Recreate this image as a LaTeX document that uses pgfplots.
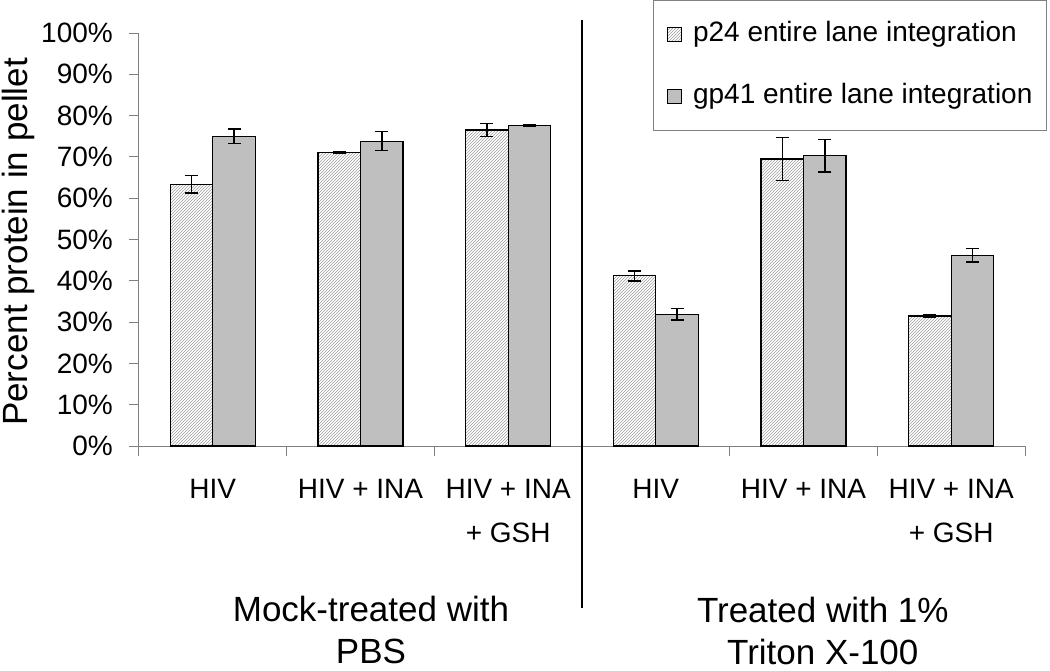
\documentclass[border=0pt]{standalone}
\usepackage{fontspec}
\setmainfont{Liberation Sans}
\usepackage{pgfplots}
\pgfplotsset{compat=1.18}
\usetikzlibrary{patterns}
\pgfplotsset{sqlegend/.style={legend image code/.code={\draw[##1, line width=1pt] (0pt,-7pt) rectangle (14pt,7pt);}}}
\pgfplotstableread{
x y e
1 63.4 2.1
2 71.1 0.25
3 76.5 1.6
4 41.2 1.2
5 69.5 5.2
6 31.5 0.3
}\ptwentyfour
\pgfplotstableread{
x y e
1 75.0 1.7
2 73.8 2.3
3 77.6 0.25
4 31.9 1.45
5 70.3 3.9
6 46.2 1.6
}\gpfortyone
\begin{document}
\begin{tikzpicture}
\path[use as bounding box] (0,0) rectangle (1050pt,-671pt);
\begin{axis}[
  at={(139pt,-446pt)}, anchor=south west,
  scale only axis, width=886pt, height=413pt,
  ybar=0pt, bar width=42.5pt,
  xmin=0.5, xmax=6.5, ymin=0, ymax=100,
  clip=false,
  axis x line*=bottom, axis y line*=left,
  axis line style={-, draw=gray, line width=1pt},
  tick align=outside,
  major tick length=10pt,
  tick style={gray, line width=1pt},
  xtick={0.5,1.5,2.5,3.5,4.5,5.5,6.5},
  xticklabels={},
  extra x ticks={1,2,3,4,5,6},
  extra x tick labels={HIV, HIV + INA, {HIV + INA\\+ GSH}, HIV, HIV + INA, {HIV + INA\\+ GSH}},
  extra x tick style={major tick length=0pt},
  xticklabel style={inner sep=0pt, anchor=north, yshift=-33pt, align=center, font=\fontsize{28}{44}\selectfont},
  ytick={0,10,...,100},
  yticklabels={0\%,10\%,20\%,30\%,40\%,50\%,60\%,70\%,80\%,90\%,100\%},
  yticklabel style={inner sep=0pt, anchor=east, xshift=-16pt, font=\fontsize{28}{34}\selectfont},
  ylabel={Percent protein in pellet},
  ylabel style={at={(rel axis cs:-0.15463,0.494)}, anchor=north, inner sep=0pt, font=\fontsize{35}{42}\selectfont},
  legend style={at={(1.0248,1.0799)}, anchor=north east, draw=gray, line width=1pt, fill=white,
    font=\fontsize{28}{34}\selectfont, inner xsep=14pt, inner ysep=21pt, row sep=36pt,
    nodes={inner sep=0pt, text height=20pt, text depth=6pt},
    /tikz/every odd column/.append style={column sep=11pt}},
  legend cell align=left,
]
\addplot[draw=black, line width=1.2pt, pattern=north east lines, pattern color=gray!75, sqlegend,
  error bars/.cd, y dir=both, y explicit,
  error bar style={black, line width=1.5pt},
  error mark options={black, line width=1.5pt, mark size=6.5pt, rotate=90}]
  table[x=x, y=y, y error=e] {\ptwentyfour};
\addlegendentry{p24 entire lane integration}
\addplot[draw=black, fill=black!25, line width=1.2pt, sqlegend,
  error bars/.cd, y dir=both, y explicit,
  error bar style={black, line width=1.5pt},
  error mark options={black, line width=1.5pt, mark size=6.5pt, rotate=90}]
  table[x=x, y=y, y error=e] {\gpfortyone};
\addlegendentry{gp41 entire lane integration}
\draw[black, line width=1.5pt] (rel axis cs:0.5,1.0315) -- (rel axis cs:0.5,-0.3923);
\node[anchor=north, align=center, inner sep=0pt, font=\fontsize{35}{42}\selectfont] at (rel axis cs:0.2618,-0.3632) {Mock-treated with\\PBS};
\node[anchor=north, align=center, inner sep=0pt, font=\fontsize{35}{42}\selectfont] at (rel axis cs:0.7718,-0.3660) {Treated with 1\%\\Triton X-100};
\end{axis}
\end{tikzpicture}
\end{document}
